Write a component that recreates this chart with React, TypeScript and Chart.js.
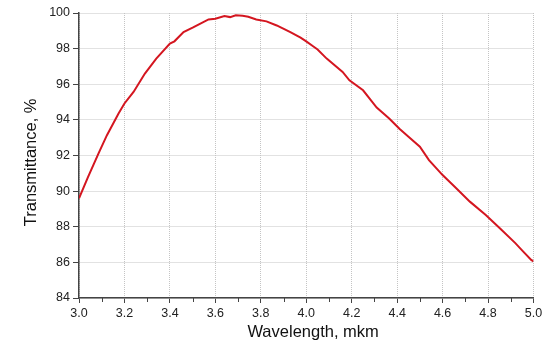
import React, { useEffect, useRef } from "react";
import { Chart, registerables } from "chart.js";

Chart.register(...registerables);

const wavelength = [
  3.0, 3.04, 3.086, 3.123, 3.174, 3.2, 3.24, 3.29, 3.34, 3.4, 3.42, 3.46, 3.5, 3.53,
  3.57, 3.6, 3.64, 3.665, 3.69, 3.72, 3.745, 3.78, 3.825, 3.87, 3.93, 3.975, 4.0,
  4.03, 4.05, 4.09, 4.16, 4.19, 4.25, 4.31, 4.365, 4.41, 4.455, 4.5, 4.54, 4.6,
  4.66, 4.72, 4.79, 4.86, 4.92, 4.955, 4.99, 5.0,
];
const transmittance = [
  89.6, 90.8, 92.12, 93.14, 94.36, 94.92, 95.57, 96.6, 97.44, 98.28, 98.41, 98.93,
  99.18, 99.38, 99.64, 99.68, 99.83, 99.77, 99.87, 99.84, 99.79, 99.64, 99.53, 99.3,
  98.93, 98.62, 98.41, 98.13, 97.95, 97.44, 96.69, 96.22, 95.66, 94.69, 94.08, 93.5,
  93.0, 92.49, 91.74, 90.9, 90.16, 89.41, 88.66, 87.82, 87.08, 86.6, 86.14, 86.05,
];
const xMinorTicks = [3.1, 3.3, 3.5, 3.7, 3.9, 4.1, 4.3, 4.5, 4.7, 4.9];
const xTitle = "   Wavelength, mkm";
const yTitle = "Transmittance, %   ";

const FONT = "'Liberation Sans', Arial, sans-serif";

const minorTickPlugin = {
  id: "minorTicks",
  afterDraw(chart: any) {
    const ctx = chart.ctx;
    const xs = chart.scales.x;
    const y0 = chart.chartArea.bottom;
    ctx.save();
    ctx.strokeStyle = "#444";
    ctx.lineWidth = 1;
    for (const v of xMinorTicks) {
      const px = Math.round(xs.getPixelForValue(v)) + 0.5;
      ctx.beginPath();
      ctx.moveTo(px, y0);
      ctx.lineTo(px, y0 + 4);
      ctx.stroke();
    }
    ctx.restore();
  },
};

export default function App() {
  const ref = useRef<HTMLCanvasElement | null>(null);
  useEffect(() => {
    const canvas = ref.current!;
    const chart = new Chart(canvas, {
      type: "line",
      data: {
        datasets: [
          {
            data: wavelength.map((x, i) => ({ x, y: transmittance[i] })),
            borderColor: "rgb(212,22,32)",
            borderWidth: 2,
            pointRadius: 0,
            tension: 0,
            fill: false,
          },
        ],
      },
      options: {
        responsive: false,
        animation: false,
        layout: { padding: { left: 0, top: 13, right: 14.5, bottom: 0 } },
        plugins: { legend: { display: false }, tooltip: { enabled: false } },
        scales: {
          x: {
            type: "linear",
            min: 3,
            max: 5,
            afterFit(scale: any) {
              scale.height = 46;
            },
            ticks: {
              stepSize: 0.2,
              color: "#222",
              font: { family: FONT, size: 12.5 },
              padding: 3,
              maxRotation: 0,
              callback: (v: any) => Number(v).toFixed(1),
            },
            grid: {
              color: "#c4c4c4",
              lineWidth: 1,
              tickLength: 5,
              tickColor: "#444",
              tickWidth: 1,
              tickBorderDash: [],
            },
            border: { display: true, color: "#444", width: 1.5, dash: [1, 1] },
            title: {
              display: true,
              text: xTitle,
              color: "#111",
              font: { family: FONT, size: 16.5 },
              padding: { top: 0, bottom: 2 },
            },
          },
          y: {
            min: 84,
            max: 100,
            afterFit(scale: any) {
              scale.width = 79;
            },
            ticks: {
              stepSize: 2,
              color: "#222",
              font: { family: FONT, size: 12.5 },
              padding: 3,
            },
            grid: {
              color: "#c4c4c4",
              lineWidth: 1,
              tickLength: 6,
              tickColor: "#444",
              tickWidth: 1,
              tickBorderDash: [],
            },
            border: { display: true, color: "#444", width: 1.5, dash: [1, 1] },
            title: {
              display: true,
              text: yTitle,
              color: "#111",
              font: { family: FONT, size: 16.5 },
              padding: { top: 22, bottom: 0 },
            },
          },
        },
      },
      plugins: [minorTickPlugin],
    } as any);
    return () => chart.destroy();
  }, []);
  return (
    <div style={{ position: "fixed", left: 0, top: 0, width: 548, height: 344, background: "#fff" }}>
      <canvas ref={ref} width={548} height={344} style={{ display: "block" }} />
    </div>
  );
}
